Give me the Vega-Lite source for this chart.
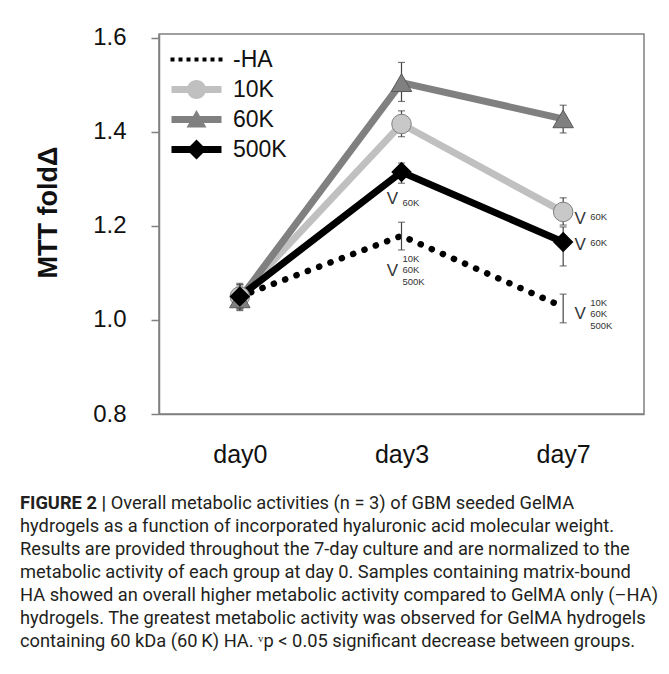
{
  "$schema": "https://vega.github.io/schema/vega-lite/v6.json",
  "width": 485,
  "height": 380,
  "autosize": {"type": "none"},
  "padding": {"left": 159, "top": 34, "right": 25, "bottom": 260},
  "background": "white",
  "config": {
    "font": "Liberation Sans",
    "view": {"stroke": "#808080", "strokeWidth": 1.5}
  },
  "title": {
    "text": "FIGURE 2 |",
    "subtitle": [
      "\u200b\u00a0\u00a0\u00a0\u00a0\u00a0\u00a0\u00a0\u00a0\u00a0\u00a0\u00a0\u00a0\u00a0\u00a0\u00a0\u00a0\u00a0\u00a0\u00a0\u00a0Overall metabolic activities (n = 3) of GBM seeded GelMA",
      "hydrogels as a function of incorporated hyaluronic acid molecular weight.",
      "Results are provided throughout the 7-day culture and are normalized to the",
      "metabolic activity of each group at day 0. Samples containing matrix-bound",
      "HA showed an overall higher metabolic activity compared to GelMA only (\u2013HA)",
      "hydrogels. The greatest metabolic activity was observed for GelMA hydrogels",
      "containing 60 kDa (60\u2009K) HA. \u1d5bp < 0.05 significant decrease between groups."
    ],
    "orient": "bottom",
    "anchor": "start",
    "frame": "group",
    "dx": -139,
    "offset": 28,
    "font": "Roboto",
    "fontSize": 18.3,
    "fontWeight": "bold",
    "color": "#231f20",
    "subtitleFont": "Roboto",
    "subtitleFontSize": 18.3,
    "subtitleColor": "#231f20",
    "subtitlePadding": -18.3,
    "subtitleLineHeight": 23
  },
  "datasets": {
    "series": [
      {"group": "-HA", "day": "day0", "mean": 1.05, "lo": 1.025, "hi": 1.075},
      {"group": "-HA", "day": "day3", "mean": 1.179, "lo": 1.149, "hi": 1.208},
      {"group": "-HA", "day": "day7", "mean": 1.028, "lo": 0.994, "hi": 1.055},
      {"group": "10K", "day": "day0", "mean": 1.05, "lo": 1.025, "hi": 1.075},
      {"group": "10K", "day": "day3", "mean": 1.417, "lo": 1.39, "hi": 1.445},
      {"group": "10K", "day": "day7", "mean": 1.23, "lo": 1.202, "hi": 1.26},
      {"group": "60K", "day": "day0", "mean": 1.045, "lo": 1.02, "hi": 1.07},
      {"group": "60K", "day": "day3", "mean": 1.505, "lo": 1.465, "hi": 1.548},
      {"group": "60K", "day": "day7", "mean": 1.428, "lo": 1.398, "hi": 1.457},
      {"group": "500K", "day": "day0", "mean": 1.05, "lo": 1.022, "hi": 1.078},
      {"group": "500K", "day": "day3", "mean": 1.315, "lo": 1.291, "hi": 1.334},
      {"group": "500K", "day": "day7", "mean": 1.166, "lo": 1.115, "hi": 1.198}
    ],
    "notes": [
      {"day": "day3", "y": 1.257, "label": "V", "kind": "V"},
      {"day": "day3", "y": 1.249, "label": "60K", "kind": "sub"},
      {"day": "day3", "y": 1.104, "label": "V", "kind": "V"},
      {"day": "day3", "y": 1.13, "label": "10K", "kind": "sub"},
      {"day": "day3", "y": 1.106, "label": "60K", "kind": "sub"},
      {"day": "day3", "y": 1.081, "label": "500K", "kind": "sub"},
      {"day": "day7", "y": 1.215, "label": "V", "kind": "V"},
      {"day": "day7", "y": 1.219, "label": "60K", "kind": "sub"},
      {"day": "day7", "y": 1.16, "label": "V", "kind": "V"},
      {"day": "day7", "y": 1.164, "label": "60K", "kind": "sub"},
      {"day": "day7", "y": 1.013, "label": "V", "kind": "V"},
      {"day": "day7", "y": 1.036, "label": "10K", "kind": "sub"},
      {"day": "day7", "y": 1.013, "label": "60K", "kind": "sub"},
      {"day": "day7", "y": 0.987, "label": "500K", "kind": "sub"}
    ]
  },
  "data": {"name": "series"},
  "encoding": {
    "x": {
      "field": "day",
      "type": "nominal",
      "sort": ["day0", "day3", "day7"],
      "scale": {"type": "point", "padding": 0.5},
      "axis": {
        "title": null,
        "labelAngle": 0,
        "ticks": false,
        "labelFontSize": 25,
        "labelColor": "#111",
        "labelPadding": 28,
        "domainColor": "#808080",
        "domainWidth": 1.5
      }
    },
    "y": {
      "field": "mean",
      "type": "quantitative",
      "title": "MTT fold\u0394",
      "scale": {"domain": [0.8, 1.6085], "nice": false, "zero": false},
      "axis": {
        "values": [0.8, 1.0, 1.2, 1.4, 1.6],
        "format": ".1f",
        "grid": false,
        "domainColor": "#808080",
        "domainWidth": 1.5,
        "tickColor": "#808080",
        "tickWidth": 1.5,
        "tickSize": 8,
        "labelFontSize": 24,
        "labelColor": "#111",
        "labelPadding": 25,
        "titleFontSize": 27,
        "titleFontWeight": "bold",
        "titleColor": "#111",
        "titlePadding": 30,
        "titleY": 178
      }
    }
  },
  "layer": [
    {
      "transform": [{"filter": "datum.group === '-HA'"}],
      "mark": {"type": "line", "color": "black", "strokeWidth": 6.5, "strokeDash": [0.1, 12], "strokeCap": "round"}
    },
    {
      "transform": [{"filter": "datum.group === '10K'"}],
      "mark": {"type": "line", "color": "#c0c0c0", "strokeWidth": 7}
    },
    {
      "transform": [{"filter": "datum.group === '60K'"}],
      "mark": {"type": "line", "color": "#808080", "strokeWidth": 7}
    },
    {
      "transform": [{"filter": "datum.group === '500K'"}],
      "mark": {"type": "line", "color": "black", "strokeWidth": 7}
    },
    {
      "mark": {"type": "errorbar", "ticks": true, "size": 7, "thickness": 1.2, "color": "#444"},
      "encoding": {
        "y": {"field": "lo", "type": "quantitative", "title": "MTT fold\u0394"},
        "y2": {"field": "hi"}
      }
    },
    {
      "transform": [{"filter": "datum.group === '10K'"}],
      "mark": {"type": "point", "shape": "circle", "filled": true, "fill": "#c8c8c8", "stroke": "#808080", "strokeWidth": 1, "size": 380, "opacity": 1}
    },
    {
      "transform": [{"filter": "datum.group === '60K'"}],
      "mark": {"type": "point", "shape": "triangle-up", "filled": true, "fill": "#808080", "stroke": "#5a5a5a", "strokeWidth": 1, "size": 420, "opacity": 1}
    },
    {
      "transform": [{"filter": "datum.group === '500K'"}],
      "mark": {"type": "point", "shape": "diamond", "filled": true, "fill": "black", "size": 420, "opacity": 1}
    },
    {
      "transform": [{"filter": "datum.group === 'none'"}],
      "mark": {"type": "point", "filled": true, "size": 400, "opacity": 1},
      "encoding": {
        "shape": {
          "field": "group",
          "type": "nominal",
          "scale": {
            "domain": ["-HA", "10K", "60K", "500K"],
            "range": [
              "M-2.6,-0.2h0.4v0.4h-0.4z M-1.8,-0.2h0.4v0.4h-0.4z M-1.0,-0.2h0.4v0.4h-0.4z M-0.2,-0.2h0.4v0.4h-0.4z M0.6,-0.2h0.4v0.4h-0.4z M1.4,-0.2h0.4v0.4h-0.4z M2.2,-0.2h0.4v0.4h-0.4z",
              "M-2.5,-0.35H2.5V0.35H-2.5Z M0.95,0A0.95,0.95 0 1 1 -0.95,0A0.95,0.95 0 1 1 0.95,0Z",
              "M-2.5,-0.35H2.5V0.35H-2.5Z M0,-0.95L1,0.8L-1,0.8Z",
              "M-2.5,-0.35H2.5V0.35H-2.5Z M0,-1L1,0L0,1L-1,0Z"
            ]
          },
          "legend": {
            "title": null,
            "orient": "none",
            "legendX": 26,
            "legendY": 14,
            "padding": 0,
            "labelOffset": 25,
            "labelFontSize": 23,
            "labelColor": "#111",
            "rowPadding": 6,
            "symbolSize": 400,
            "symbolStrokeWidth": 0,
            "symbolOpacity": 1
          }
        },
        "fill": {
          "field": "group",
          "type": "nominal",
          "scale": {
            "domain": ["-HA", "10K", "60K", "500K"],
            "range": ["#000000", "#c0c0c0", "#808080", "#000000"]
          }
        }
      }
    },
    {
      "data": {"name": "notes"},
      "transform": [{"filter": "datum.kind === 'V' && datum.day === 'day3'"}],
      "mark": {"type": "text", "dx": -9, "fontSize": 17, "color": "#333", "align": "center", "baseline": "middle"},
      "encoding": {"y": {"field": "y", "type": "quantitative", "title": "MTT fold\u0394"}, "text": {"field": "label"}}
    },
    {
      "data": {"name": "notes"},
      "transform": [{"filter": "datum.kind === 'sub' && datum.day === 'day3'"}],
      "mark": {"type": "text", "dx": 1, "fontSize": 9.5, "color": "#333", "align": "left", "baseline": "middle"},
      "encoding": {"y": {"field": "y", "type": "quantitative", "title": "MTT fold\u0394"}, "text": {"field": "label"}}
    },
    {
      "data": {"name": "notes"},
      "transform": [{"filter": "datum.kind === 'V' && datum.day === 'day7'"}],
      "mark": {"type": "text", "dx": 17, "fontSize": 17, "color": "#333", "align": "center", "baseline": "middle"},
      "encoding": {"y": {"field": "y", "type": "quantitative", "title": "MTT fold\u0394"}, "text": {"field": "label"}}
    },
    {
      "data": {"name": "notes"},
      "transform": [{"filter": "datum.kind === 'sub' && datum.day === 'day7'"}],
      "mark": {"type": "text", "dx": 27, "fontSize": 9.5, "color": "#333", "align": "left", "baseline": "middle"},
      "encoding": {"y": {"field": "y", "type": "quantitative", "title": "MTT fold\u0394"}, "text": {"field": "label"}}
    }
  ]
}
